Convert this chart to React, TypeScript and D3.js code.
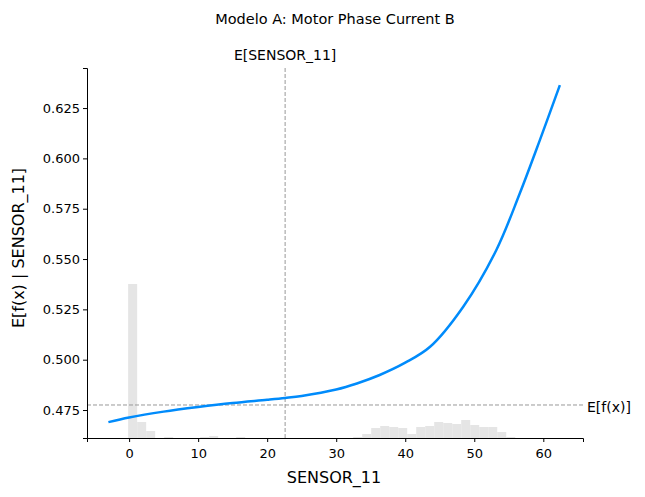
import { useEffect, useRef } from "react"
import * as d3 from "d3"

const curveX = [-3, 0, 5, 10, 15, 20, 22.6, 25, 30, 33, 36.3, 40, 43.6, 48.4, 53.2, 56.6, 59.5, 62.4]
const curveY = [0.469, 0.4713, 0.4742, 0.4765, 0.4785, 0.4801, 0.481, 0.482, 0.4852, 0.4882, 0.4924, 0.4985, 0.5064, 0.5263, 0.5545, 0.5827, 0.6091, 0.6364]
const histCounts = [154, 16, 7, 0, 1, 0, 0, 0, 1, 2, 0, 0, 1, 0, 0, 0, 0, 0, 0, 0, 0, 0, 0, 0, 0, 1, 4, 10, 12, 11, 10, 4, 11, 12, 16, 15, 14, 18, 13, 11, 11, 6, 1]
const binStart = -0.14
const binWidth = 1.304
const meanX = 22.6
const meanY = 0.4775
const xTicks = [0, 10, 20, 30, 40, 50, 60]
const yTicks = [0.475, 0.5, 0.525, 0.55, 0.575, 0.6, 0.625]

export default function App() {
  const ref = useRef<SVGSVGElement | null>(null)

  useEffect(() => {
    const svg = d3.select(ref.current)
    svg.selectAll("*").remove()
    const left = 87, right = 583, top = 68, bottom = 438
    const font = "DejaVu Sans, sans-serif"

    const x = d3.scaleLinear().domain([-6.1, 65.75]).range([left, right])
    const y = d3.scaleLinear().domain([0.4611, 0.6449]).range([bottom, top])
    const h = d3.scaleLinear().domain([0, 154]).range([0, 154])

    // histogram
    svg.append("g").selectAll("rect").data(histCounts).enter().append("rect")
      .attr("x", (_, i) => x(binStart + i * binWidth))
      .attr("width", x(binWidth) - x(0))
      .attr("y", (d) => bottom - h(d))
      .attr("height", (d) => h(d))
      .attr("fill", "#e5e5e5")

    // reference lines
    svg.append("line").attr("x1", x(meanX)).attr("x2", x(meanX)).attr("y1", top).attr("y2", bottom)
      .attr("stroke", "#999").attr("stroke-dasharray", "4,2")
    svg.append("line").attr("x1", left).attr("x2", right).attr("y1", y(meanY)).attr("y2", y(meanY))
      .attr("stroke", "#999").attr("stroke-dasharray", "4,2")

    const line = d3.line<number>().x((_, i) => x(curveX[i])).y((d) => y(d)).curve(d3.curveCatmullRom.alpha(0.5))
    svg.append("path").datum(curveY).attr("d", line).attr("fill", "none")
      .attr("stroke", "#008bfb").attr("stroke-width", 2.5)

    const gx = svg.append("g").attr("transform", `translate(0,${bottom})`)
      .call(d3.axisBottom(x).tickValues(xTicks).tickSize(4).tickFormat(d3.format("d")))
    const gy = svg.append("g").attr("transform", `translate(${left},0)`)
      .call(d3.axisLeft(y).tickValues(yTicks).tickSize(4).tickFormat(d3.format(".3f")))
    for (const g of [gx, gy]) {
      g.selectAll("text").attr("font-family", font).attr("font-size", 13).attr("fill", "#000")
      g.select(".domain").attr("stroke", "#000")
      g.selectAll(".tick line").attr("stroke", "#000")
    }
    gx.selectAll("text").attr("dy", "1em")

    svg.append("text").attr("x", (left + right) / 2 - 1).attr("y", 483).attr("text-anchor", "middle")
      .attr("font-family", font).attr("font-size", 16).text("SENSOR_11")
    svg.append("text").attr("transform", `translate(24,${(top + bottom) / 2 - 5}) rotate(-90)`)
      .attr("text-anchor", "middle").attr("font-family", font).attr("font-size", 16).text("E[f(x) | SENSOR_11]")
    svg.append("text").attr("x", 335).attr("y", 24).attr("text-anchor", "middle")
      .attr("font-family", font).attr("font-size", 14.5).text("Modelo A: Motor Phase Current B")
    svg.append("text").attr("x", x(meanX)).attr("y", 60).attr("text-anchor", "middle")
      .attr("font-family", font).attr("font-size", 14).text("E[SENSOR_11]")
    svg.append("text").attr("x", 587).attr("y", y(meanY) + 7).attr("font-family", font)
      .attr("font-size", 14).text("E[f(x)]")
  }, [])

  return (
    <div style={{ position: "absolute", left: 0, top: 0 }}>
      <svg ref={ref} width={645} height={497} style={{ background: "#fff" }} />
    </div>
  )
}
